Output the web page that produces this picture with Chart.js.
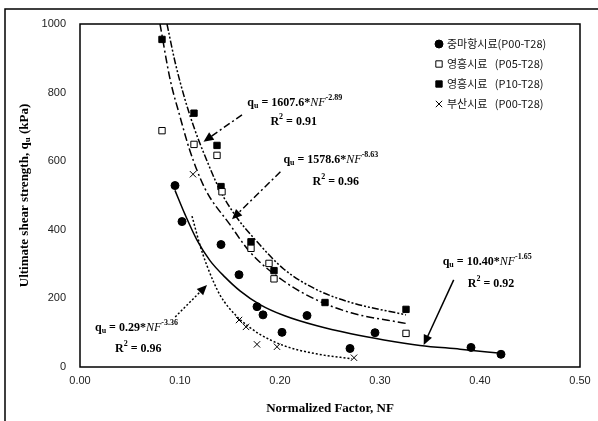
<!DOCTYPE html>
<html>
<head>
<meta charset="utf-8">
<script src="https://cdn.jsdelivr.net/npm/chart.js@4.4.1/dist/chart.umd.min.js"></script>
<style>
  html, body { margin: 0; padding: 0; background: #fff; }
  #wrap { width: 598px; height: 421px; position: relative; }
</style>
</head>
<body>
<div id="wrap"><canvas id="chart"></canvas></div>
<script>
// measured points, NF vs qu (kPa)
const nfP00 = [0.095, 0.102, 0.141, 0.159, 0.177, 0.183, 0.202, 0.227, 0.270, 0.295, 0.391, 0.421];
const quP00 = [529, 424, 357, 269, 176, 152, 101, 150, 54, 100, 57, 37];

const nfP05 = [0.082, 0.114, 0.137, 0.142, 0.171, 0.189, 0.194, 0.326];
const quP05 = [689, 649, 617, 511, 346, 302, 257, 98];

const nfP10 = [0.082, 0.114, 0.137, 0.141, 0.171, 0.194, 0.245, 0.326];
const quP10 = [955, 740, 646, 526, 365, 281, 188, 168];

const nfBusan = [0.113, 0.159, 0.166, 0.177, 0.197, 0.274];
const quBusan = [562, 137, 117, 66, 59, 27];

// trend curves
const nfFitP00 = [0.095, 0.105, 0.117, 0.130, 0.145, 0.160, 0.180, 0.204, 0.237, 0.271, 0.304, 0.340, 0.380, 0.421];
const quFitP00 = [515, 445, 370, 310, 262, 222, 182, 150, 120, 97, 79, 63, 52, 40];

const nfFitP05 = [0.080, 0.090, 0.100, 0.110, 0.125, 0.150, 0.170, 0.204, 0.237, 0.271, 0.326];
const quFitP05 = [1000, 840, 730, 630, 520, 415, 335, 250, 195, 158, 127];

const nfFitP10 = [0.087, 0.095, 0.105, 0.115, 0.125, 0.140, 0.157, 0.175, 0.204, 0.237, 0.271, 0.326];
const quFitP10 = [1000, 890, 780, 690, 615, 515, 435, 372, 285, 225, 188, 152];

const nfFitBusan = [0.112, 0.120, 0.127, 0.140, 0.157, 0.170, 0.180, 0.204, 0.237, 0.272];
const quFitBusan = [440, 355, 295, 210, 147, 115, 95, 62, 38, 24];

const legendLabels = ["중마항시료(P00-T28)", "영흥시료   (P05-T28)", "영흥시료   (P10-T28)", "부산시료   (P00-T28)"];
const xTicks = [0, 0.1, 0.2, 0.3, 0.4, 0.5];
const yTicks = [0, 200, 400, 600, 800, 1000];

// fitted equations shown on the chart
const eqCoef = ["1607.6", "1578.6", "0.29", "10.40"];
const eqExp = ["-2.89", "-8.63", "-3.36", "-1.65"];
const eqR2 = ["0.91", "0.96", "0.96", "0.92"];

const pts = (xs, ys) => xs.map((x, i) => ({ x: x, y: ys[i] }));

// where the equation labels and their arrows sit (data units)
const notes = [
  { text: [0.1673, 770], r2: [0.1904, 714], from: [0.162, 735], to: [0.1235, 657], dash: [7, 3, 2, 3] },
  { text: [0.2034, 603], r2: [0.2325, 539], from: [0.2004, 569], to: [0.152, 431], dash: [7, 3, 2, 3] },
  { text: [0.015, 114], r2: [0.035, 52], from: [0.0952, 146], to: [0.127, 239], dash: [2, 2] },
  { text: [0.3627, 306], r2: [0.3878, 242], from: [0.3737, 254], to: [0.3437, 64], dash: [] },
];

const fonts = {
  b: "bold 12px 'Liberation Serif'",
  i: "italic 12px 'Liberation Serif'",
  s: "bold 8px 'Liberation Serif'",
  t: "bold 13px 'Liberation Serif'",
  ts: "bold 9px 'Liberation Serif'",
};

function drawRich(ctx, x, y, parts) {
  let cx = x;
  for (const [t, st, dy] of parts) {
    ctx.font = fonts[st];
    ctx.fillText(t, cx, y + (dy || 0));
    cx += ctx.measureText(t).width;
  }
  return cx - x;
}

function arrow(ctx, x1, y1, x2, y2, dash) {
  const a = Math.atan2(y2 - y1, x2 - x1);
  const len = 10, hw = 4.5;
  ctx.save();
  ctx.setLineDash(dash);
  ctx.lineWidth = 1.5;
  ctx.beginPath();
  ctx.moveTo(x1, y1);
  ctx.lineTo(x2 - Math.cos(a) * len * 0.8, y2 - Math.sin(a) * len * 0.8);
  ctx.stroke();
  ctx.setLineDash([]);
  ctx.beginPath();
  ctx.moveTo(x2, y2);
  ctx.lineTo(x2 - Math.cos(a) * len - Math.sin(a) * hw, y2 - Math.sin(a) * len + Math.cos(a) * hw);
  ctx.lineTo(x2 - Math.cos(a) * len + Math.sin(a) * hw, y2 - Math.sin(a) * len - Math.cos(a) * hw);
  ctx.closePath();
  ctx.fill();
  ctx.restore();
}

const extras = {
  id: "extras",
  afterDraw(chart) {
    const ctx = chart.ctx;
    const { left, top, right, bottom } = chart.chartArea;
    const sx = chart.scales.x, sy = chart.scales.y;
    ctx.save();
    ctx.strokeStyle = "#000";
    ctx.fillStyle = "#000";

    // outer frame and plot frame
    ctx.lineWidth = 1.5;
    ctx.beginPath();
    ctx.moveTo(5, 421);
    ctx.lineTo(5, 9);
    ctx.lineTo(598, 9);
    ctx.stroke();
    ctx.strokeRect(left, top, right - left, bottom - top);

    // y axis title with subscript
    ctx.save();
    ctx.translate(25, (top + bottom) / 2);
    ctx.rotate(-Math.PI / 2);
    ctx.textBaseline = "middle";
    const yParts = [["Ultimate shear strength, q", "t"], ["u", "ts", 3], [" (kPa)", "t"]];
    let w = 0;
    for (const [t, st] of yParts) { ctx.font = fonts[st]; w += ctx.measureText(t).width; }
    drawRich(ctx, -w / 2, 0, yParts);
    ctx.restore();

    // equations and arrows
    ctx.textBaseline = "middle";
    notes.forEach((n, i) => {
      drawRich(ctx, sx.getPixelForValue(n.text[0]), sy.getPixelForValue(n.text[1]), [
        ["q", "b"], ["u", "s", 3], [" = " + eqCoef[i] + "*", "b"], ["NF", "i"], [eqExp[i], "s", -5],
      ]);
      drawRich(ctx, sx.getPixelForValue(n.r2[0]), sy.getPixelForValue(n.r2[1]), [
        ["R", "b"], ["2", "s", -5], [" = " + eqR2[i], "b"],
      ]);
      arrow(ctx, sx.getPixelForValue(n.from[0]), sy.getPixelForValue(n.from[1]),
        sx.getPixelForValue(n.to[0]), sy.getPixelForValue(n.to[1]), n.dash);
    });

    // legend
    ctx.textBaseline = "middle";
    ctx.lineWidth = 1;
    legendLabels.forEach((lab, i) => {
      const ds = chart.data.datasets[i];
      const y = 44 + i * 20;
      ctx.fillStyle = ds.backgroundColor;
      ctx.strokeStyle = "#000";
      Chart.helpers.drawPoint(ctx, { pointStyle: ds.pointStyle, radius: ds.pointRadius, borderWidth: 1 }, 439, y);
      ctx.fillStyle = "#111";
      ctx.font = "11px 'Noto Sans CJK KR'";
      ctx.fillText(lab, 447, y);
    });
    ctx.restore();
  },
};

const markerSet = (label, xs, ys, style, fill, r) => ({
  label: label,
  data: pts(xs, ys),
  pointStyle: style,
  pointRadius: r,
  pointHoverRadius: r,
  backgroundColor: fill,
  borderColor: "#000",
  borderWidth: 1,
  showLine: false,
});

const curveSet = (xs, ys, dash) => ({
  data: pts(xs, ys),
  showLine: true,
  pointRadius: 0,
  borderColor: "#000",
  borderWidth: 1.5,
  borderDash: dash,
  cubicInterpolationMode: "monotone",
  fill: false,
});

new Chart(document.getElementById("chart"), {
  type: "scatter",
  data: {
    datasets: [
      markerSet(legendLabels[0], nfP00, quP00, "circle", "#000", 4),
      markerSet(legendLabels[1], nfP05, quP05, "rect", "#fff", 4.5),
      markerSet(legendLabels[2], nfP10, quP10, "rect", "#000", 4.5),
      markerSet(legendLabels[3], nfBusan, quBusan, "crossRot", "#000", 4.5),
      curveSet(nfFitP00, quFitP00, []),
      curveSet(nfFitP05, quFitP05, [8, 3, 2, 3]),
      curveSet(nfFitP10, quFitP10, [7, 2, 2, 2, 2, 2]),
      curveSet(nfFitBusan, quFitBusan, [2, 2]),
    ],
  },
  options: {
    responsive: true,
    maintainAspectRatio: false,
    animation: false,
    layout: { padding: { left: 5, top: 24, right: 18, bottom: 0 } },
    scales: {
      x: {
        type: "linear",
        min: 0,
        max: 0.5,
        afterBuildTicks: (s) => { s.ticks = xTicks.map((v) => ({ value: v })); },
        afterFit: (s) => { s.height = 54; },
        grid: { display: false, drawTicks: false },
        border: { display: false },
        ticks: {
          padding: 7,
          color: "#222",
          font: { family: "'Liberation Sans'", size: 11 },
          callback: (v) => v.toFixed(2),
        },
        title: {
          display: true,
          text: "Normalized Factor, NF",
          color: "#000",
          font: { family: "'Liberation Serif'", size: 13, weight: "bold" },
          padding: { top: 4, bottom: 5 },
        },
      },
      y: {
        min: 0,
        max: 1000,
        afterBuildTicks: (s) => { s.ticks = yTicks.map((v) => ({ value: v })); },
        afterFit: (s) => { s.width = 75; },
        grid: { display: false, drawTicks: false },
        border: { display: false },
        ticks: {
          padding: 14,
          color: "#222",
          font: { family: "'Liberation Sans'", size: 11 },
          callback: (v) => String(v),
        },
      },
    },
    plugins: {
      legend: { display: false },
      tooltip: { enabled: false },
    },
  },
  plugins: [extras],
});
</script>
</body>
</html>
